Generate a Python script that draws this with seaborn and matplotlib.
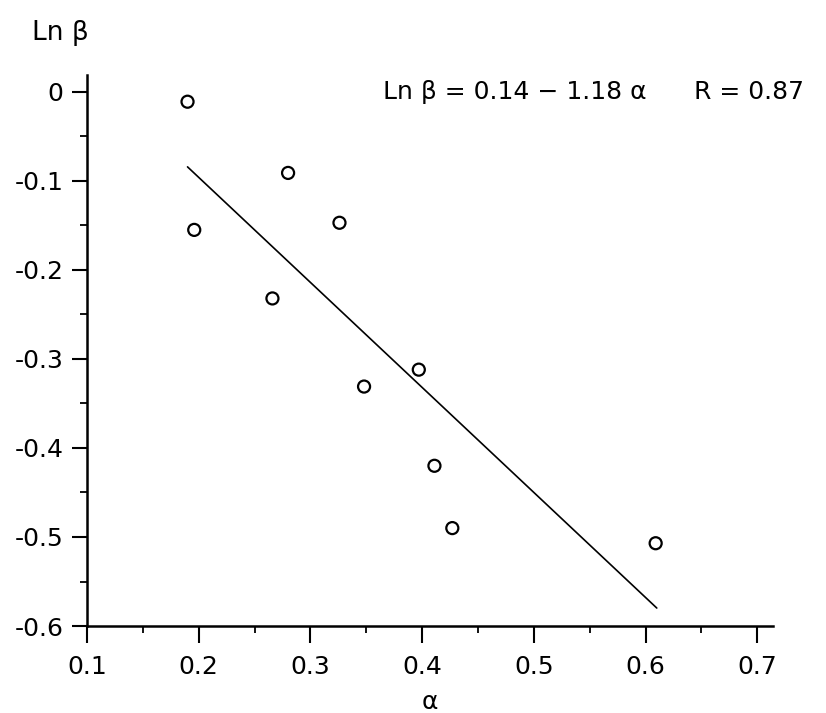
import numpy as np
import pandas as pd
import seaborn as sns
import matplotlib.pyplot as plt
from matplotlib.ticker import MultipleLocator, FuncFormatter

# values
alpha = [0.190, 0.196, 0.280, 0.326, 0.266, 0.348, 0.397, 0.411, 0.427, 0.609]
ln_beta = [-0.011, -0.155, -0.091, -0.147, -0.232, -0.331, -0.312, -0.420, -0.490, -0.507]

# printed regression: Ln beta = 0.14 - 1.18 alpha, drawn over the data range
intercept = 0.14
slope = -1.18
fit_alpha = [0.19, 0.61]

x_ticks = [0.1, 0.2, 0.3, 0.4, 0.5, 0.6, 0.7]
y_ticks = [0.0, -0.1, -0.2, -0.3, -0.4, -0.5, -0.6]

sns.set_theme(style="ticks")
plt.rcParams['font.family'] = ['DejaVu Sans']
plt.rcParams['axes.unicode_minus'] = False

fig = plt.figure(figsize=(8.26, 7.13), dpi=100)
ax = fig.add_axes([0.1053, 0.122, 0.8305, 0.7728])

df = pd.DataFrame({'alpha': alpha, 'ln_beta': ln_beta})
fit = pd.DataFrame({'alpha': fit_alpha})
fit['ln_beta'] = intercept + slope * fit['alpha']

sns.lineplot(data=fit, x='alpha', y='ln_beta', ax=ax, color='black', linewidth=1.2)
sns.scatterplot(data=df, x='alpha', y='ln_beta', ax=ax, marker='o', s=75,
                facecolor='none', edgecolor='black', linewidth=1.6, zorder=3)

ax.set_xlim(0.1, 0.714)
ax.set_ylim(-0.6, 0.019)
ax.set_xticks(x_ticks)
ax.set_yticks(y_ticks)
ax.xaxis.set_minor_locator(MultipleLocator(0.05))
ax.yaxis.set_minor_locator(MultipleLocator(0.05))
ax.xaxis.set_major_formatter(FuncFormatter(lambda v, p: f'{v:.1f}'))
ax.yaxis.set_major_formatter(FuncFormatter(lambda v, p: '0' if abs(v) < 1e-9 else f'{v:.1f}'))

sns.despine(ax=ax)
for side in ['left', 'bottom']:
    ax.spines[side].set_linewidth(1.8)
    ax.spines[side].set_color('black')

ax.tick_params(axis='x', which='major', length=12, width=1.5, pad=9, labelsize=18, colors='black')
ax.tick_params(axis='y', which='major', length=11, width=1.5, pad=6, labelsize=18, colors='black')
ax.tick_params(which='minor', length=5, width=1.3, colors='black')

ax.set_xlabel('α', fontsize=18, labelpad=8, color='black')
ax.set_ylabel('')
fig.text(32 / 826, 1 - 40 / 713, 'Ln β', fontsize=19, ha='left', va='baseline', color='black')

ax.text(0.365, 0.0, 'Ln β = 0.14 − 1.18 α', fontsize=18, ha='left', va='center', color='black')
ax.text(0.643, 0.0, 'R = 0.87', fontsize=18, ha='left', va='center', color='black', clip_on=False)

fig.savefig('out.png', dpi=100)
